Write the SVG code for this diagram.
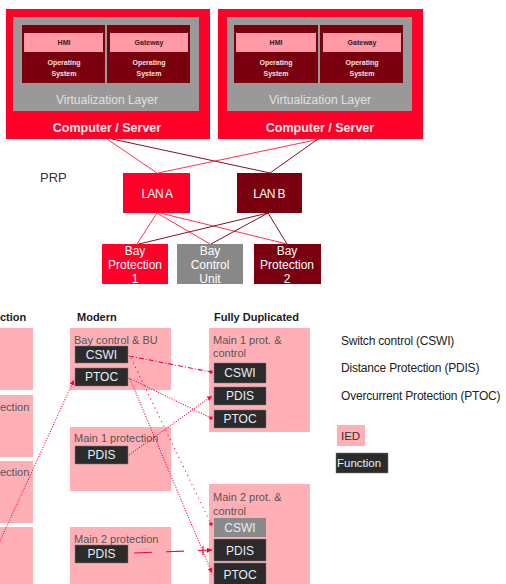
<svg xmlns="http://www.w3.org/2000/svg" width="506" height="584" viewBox="0 0 506 584">
<defs>
<style>
text{font-family:"Liberation Sans",Arial,sans-serif}
.red{fill:#ff0028}
.dk{fill:#7a0010}
.gray{fill:#999}
.pinkbar{fill:#ff9aa6}
.ied{fill:#ffb0b7}
.fn{fill:#2b2b2b;stroke:#777;stroke-width:0.5}
.fnt{fill:#e6eef6;font-size:12px;text-anchor:middle}
.small{font-size:7px;font-weight:bold;text-anchor:middle}
.lbl{fill:#555;font-size:11px}
.hdr{fill:#1a1a2a;font-size:11px;font-weight:bold}
.wt{fill:#fff;font-size:12px;text-anchor:middle}
.lg{fill:#222;font-size:12px;letter-spacing:-0.2px}
.cr{stroke:#ff3350;stroke-width:1;fill:none}
.cd{stroke:#7a1520;stroke-width:1;fill:none}
.rl{stroke:#ff0030;stroke-width:1.1;fill:none}
</style>
<marker id="dot" markerWidth="4" markerHeight="4" refX="2" refY="2" markerUnits="userSpaceOnUse"><circle cx="2" cy="2" r="1.8" fill="#ff0030"/></marker>
<marker id="arr" markerWidth="6" markerHeight="6" refX="5" refY="3" orient="auto" markerUnits="userSpaceOnUse"><path d="M0,0.5 L5,3 L0,5.5 z" fill="#ff0030"/></marker>
</defs>

<g id="server1">
<rect class="red" x="6" y="9" width="204" height="130"/>
<rect class="gray" x="13" y="17" width="186" height="94"/>
<rect class="dk" x="22" y="25" width="83" height="58"/>
<rect class="dk" x="107" y="25" width="83" height="58"/>
<rect class="pinkbar" x="24" y="33" width="79" height="19"/>
<rect class="pinkbar" x="110" y="33" width="78" height="19"/>
<text class="small" x="64" y="45" fill="#3a1a1a">HMI</text>
<text class="small" x="149" y="45" fill="#3a1a1a">Gateway</text>
<text class="small" x="64" y="65" fill="#f2e0e0">Operating</text>
<text class="small" x="64" y="76" fill="#f2e0e0">System</text>
<text class="small" x="149" y="65" fill="#f2e0e0">Operating</text>
<text class="small" x="149" y="76" fill="#f2e0e0">System</text>
<text x="107" y="104" font-size="12" fill="#e0e0e0" text-anchor="middle">Virtualization Layer</text>
<text x="107" y="132" font-size="12.5" font-weight="bold" fill="#ffe8ea" text-anchor="middle">Computer / Server</text>
</g>

<g id="server2">
<rect class="red" x="218" y="9" width="205" height="130"/>
<rect class="gray" x="227" y="17" width="185" height="94"/>
<rect class="dk" x="234" y="25" width="84" height="58"/>
<rect class="dk" x="320" y="25" width="83" height="58"/>
<rect class="pinkbar" x="236" y="33" width="80" height="19"/>
<rect class="pinkbar" x="323" y="33" width="78" height="19"/>
<text class="small" x="276" y="45" fill="#3a1a1a">HMI</text>
<text class="small" x="362" y="45" fill="#3a1a1a">Gateway</text>
<text class="small" x="276" y="65" fill="#f2e0e0">Operating</text>
<text class="small" x="276" y="76" fill="#f2e0e0">System</text>
<text class="small" x="362" y="65" fill="#f2e0e0">Operating</text>
<text class="small" x="362" y="76" fill="#f2e0e0">System</text>
<text x="320" y="104" font-size="12" fill="#e0e0e0" text-anchor="middle">Virtualization Layer</text>
<text x="320" y="132" font-size="12.5" font-weight="bold" fill="#ffe8ea" text-anchor="middle">Computer / Server</text>
</g>

<g id="prp">
<text x="40" y="182" font-size="13" fill="#333">PRP</text>
</g>

<g id="lanA">
<rect class="red" x="123" y="173" width="67" height="40"/>
<text class="wt" x="157" y="198" letter-spacing="-0.6">LAN A</text>
</g>
<g id="lanB">
<rect class="dk" x="237" y="173" width="65" height="40"/>
<text class="wt" x="269" y="198" letter-spacing="-0.6">LAN B</text>
</g>

<g id="bp1">
<rect class="red" x="102" y="244" width="66" height="40"/>
<text class="wt" x="135" y="255" fill="#ffe0e4">Bay</text>
<text class="wt" x="135" y="269">Protection</text>
<text class="wt" x="135" y="283">1</text>
</g>
<g id="bcu">
<rect x="177" y="244" width="66" height="40" fill="#888"/>
<text class="wt" x="210" y="255" fill="#eee">Bay</text>
<text class="wt" x="210" y="269" fill="#eee">Control</text>
<text class="wt" x="210" y="283" fill="#eee">Unit</text>
</g>
<g id="bp2">
<rect class="dk" x="254" y="244" width="67" height="40"/>
<text class="wt" x="287" y="255">Bay</text>
<text class="wt" x="287" y="269">Protection</text>
<text class="wt" x="287" y="283">2</text>
</g>

<g id="net-connectors">
<line class="cr" x1="107" y1="139" x2="157" y2="173"/>
<line class="cd" x1="112" y1="139" x2="270" y2="173"/>
<line class="cr" x1="320" y1="139" x2="158" y2="173"/>
<line class="cd" x1="318" y1="139" x2="270" y2="173"/>
<line class="cr" x1="157" y1="213" x2="137" y2="244"/>
<line class="cr" x1="157" y1="213" x2="210" y2="244"/>
<line class="cr" x1="160" y1="213" x2="287" y2="244"/>
<line class="cd" x1="268" y1="213" x2="139" y2="244"/>
<line class="cd" x1="268" y1="213" x2="211" y2="244"/>
<line class="cd" x1="268" y1="213" x2="287" y2="244"/>
</g>

<g id="headers">
<text class="hdr" x="0" y="321">ction</text>
<text class="hdr" x="77" y="321">Modern</text>
<text class="hdr" x="214" y="321">Fully Duplicated</text>
</g>

<g id="legacy">
<rect class="ied" x="-5" y="328" width="38" height="62"/>
<rect class="ied" x="-5" y="395" width="38" height="62"/>
<rect class="ied" x="-5" y="461" width="38" height="62"/>
<rect class="ied" x="-5" y="527" width="38" height="62"/>
<text class="lbl" x="0" y="411">ection</text>
<text class="lbl" x="0" y="476">ection</text>
</g>

<g id="bay-control-bu">
<rect class="ied" x="70" y="328" width="101" height="62"/>
<text class="lbl" x="74" y="344">Bay control &amp; BU</text>
<rect class="fn" x="75" y="346" width="53" height="17"/>
<text class="fnt" x="101.5" y="359">CSWI</text>
<rect class="fn" x="75" y="368" width="53" height="18"/>
<text class="fnt" x="101.5" y="381">PTOC</text>
</g>

<g id="main1-protection">
<rect class="ied" x="70" y="427" width="101" height="64"/>
<text class="lbl" x="74" y="442">Main 1 protection</text>
<rect class="fn" x="75" y="446" width="53" height="18"/>
<text class="fnt" x="101.5" y="459">PDIS</text>
</g>

<g id="main2-protection">
<rect class="ied" x="70" y="527" width="101" height="62"/>
<text class="lbl" x="74" y="543">Main 2 protection</text>
<rect class="fn" x="75" y="545" width="53" height="18"/>
<text class="fnt" x="101.5" y="558">PDIS</text>
</g>

<g id="main1-prot-control">
<rect class="ied" x="209" y="328" width="101" height="104"/>
<text class="lbl" x="213" y="344">Main 1 prot. &amp;</text>
<text class="lbl" x="213" y="357">control</text>
<rect class="fn" x="214" y="363" width="52" height="20"/>
<text class="fnt" x="240" y="377">CSWI</text>
<rect class="fn" x="214" y="387" width="52" height="18"/>
<text class="fnt" x="240" y="400">PDIS</text>
<rect class="fn" x="214" y="410" width="52" height="18"/>
<text class="fnt" x="240" y="423">PTOC</text>
</g>

<g id="main2-prot-control">
<rect class="ied" x="209" y="484" width="101" height="105"/>
<text class="lbl" x="213" y="501">Main 2 prot. &amp;</text>
<text class="lbl" x="213" y="515">control</text>
<rect x="214" y="518" width="52" height="19" fill="#8a8a8a"/>
<text class="fnt" x="240" y="532" fill="#d0d0d0">CSWI</text>
<rect class="fn" x="214" y="539" width="52" height="22"/>
<text class="fnt" x="240" y="555">PDIS</text>
<rect class="fn" x="214" y="563" width="52" height="24"/>
<text class="fnt" x="240" y="579">PTOC</text>
</g>

<g id="legend">
<text class="lg" x="341" y="345">Switch control (CSWI)</text>
<text class="lg" x="341" y="372">Distance Protection (PDIS)</text>
<text class="lg" x="341" y="400">Overcurrent Protection (PTOC)</text>
<rect class="ied" x="337" y="425" width="28" height="21"/>
<text x="341" y="440" font-size="11.5" fill="#333">IED</text>
<rect class="fn" x="336" y="453" width="52" height="20"/>
<text x="337" y="467" font-size="11.5" fill="#e6eef6">Function</text>
</g>

<g id="function-connectors">
<line class="rl" x1="129" y1="356" x2="211" y2="372" stroke-dasharray="5 2 1 2" marker-end="url(#dot)"/>
<line class="rl" x1="129" y1="378" x2="211" y2="418" stroke-dasharray="1 1.5" marker-end="url(#dot)"/>
<line class="rl" x1="129" y1="455" x2="212" y2="396" stroke-dasharray="1 1.5" marker-end="url(#arr)"/>
<line class="rl" x1="131" y1="358" x2="211" y2="524" stroke-dasharray="1 4" marker-end="url(#dot)"/>
<line class="rl" x1="130" y1="379" x2="212" y2="573" stroke-dasharray="1 1.5" marker-end="url(#arr)"/>
<line class="rl" x1="0" y1="541" x2="74" y2="380" stroke-dasharray="1 1.5" marker-end="url(#arr)"/>
<line class="rl" x1="134" y1="553" x2="212" y2="550" stroke-dasharray="18 14" marker-end="url(#arr)"/>
<line class="rl" x1="203" y1="546" x2="203" y2="555"/>
</g>
</svg>
